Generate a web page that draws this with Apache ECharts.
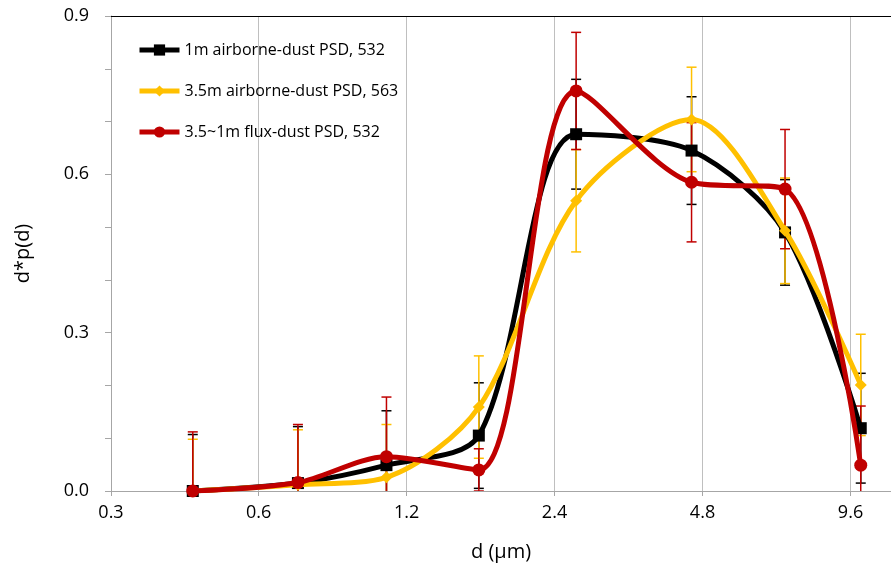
<!DOCTYPE html>
<html>
<head>
<meta charset="utf-8">
<script src="https://cdn.jsdelivr.net/npm/echarts@6/dist/echarts.min.js"></script>
<style>html,body{margin:0;padding:0;background:#fff}#c{width:891px;height:574px}</style>
</head>
<body>
<div id="c"></div>
<script>
// particle diameter (µm)
const diameters = [0.44, 0.72, 1.09, 1.68, 2.65, 4.55, 7.05, 10.05];
// d*p(d) values
const black1m   = [0.000, 0.015, 0.049, 0.105, 0.676, 0.645, 0.490, 0.119];
const yellow35m = [0.000, 0.012, 0.026, 0.159, 0.550, 0.704, 0.493, 0.201];
const redFlux   = [0.000, 0.016, 0.065, 0.040, 0.758, 0.585, 0.572, 0.049];
// error bar half-lengths
const black1mErr   = [0.107, 0.107, 0.103, 0.100, 0.104, 0.102, 0.100, 0.104];
const yellow35mErr = [0.098, 0.104, 0.100, 0.097, 0.097, 0.099, 0.100, 0.096];
const redFluxErr   = [0.112, 0.110, 0.113, 0.040, 0.111, 0.113, 0.113, 0.112];
const seriesNames = ['1m airborne-dust PSD, 532', '3.5m airborne-dust PSD, 563', '3.5~1m flux-dust PSD, 532'];
const yTicks = [0, 0.3, 0.6, 0.9];

const colors = ['#000000', '#FFC000', '#C00000'];
const symbols = ['rect', 'diamond', 'circle'];
const symbolSizes = [12, 12, 13];
const values = [black1m, yellow35m, redFlux];
const errs = [black1mErr, yellow35mErr, redFluxErr];

const FONT = '"Open Sans", "Noto Sans", sans-serif';
const chart = echarts.init(document.getElementById('c'));

const series = [];
values.forEach((vals, i) => {
  series.push({
    type: 'custom',
    name: seriesNames[i] + ' err',
    xAxisIndex: 0, yAxisIndex: 0,
    clip: true,
    z: 1,
    silent: true,
    data: diameters.map((d, k) => [d, vals[k], errs[i][k]]),
    renderItem: function (params, api) {
      const x = api.value(0), y = api.value(1), e = api.value(2);
      const top = api.coord([x, y + e]);
      const bot = api.coord([x, y - e]);
      const cap = 5;
      const st = { stroke: colors[i], lineWidth: 1.5 };
      return {
        type: 'group',
        children: [
          { type: 'line', shape: { x1: top[0], y1: top[1], x2: bot[0], y2: bot[1] }, style: st },
          { type: 'line', shape: { x1: top[0] - cap, y1: top[1], x2: top[0] + cap, y2: top[1] }, style: st },
          { type: 'line', shape: { x1: bot[0] - cap, y1: bot[1], x2: bot[0] + cap, y2: bot[1] }, style: st }
        ]
      };
    }
  });
});
values.forEach((vals, i) => {
  series.push({
    type: 'line',
    name: seriesNames[i],
    xAxisIndex: 0, yAxisIndex: 0,
    data: diameters.map((d, k) => [d, vals[k]]),
    smooth: 0.3,
    symbol: symbols[i],
    symbolSize: symbolSizes[i],
    showAllSymbol: true,
    lineStyle: { color: colors[i], width: 5 },
    itemStyle: { color: colors[i] },
    z: 3 + i
  });
});

chart.setOption({
  animation: false,
  backgroundColor: '#fff',
  textStyle: { fontFamily: FONT },
  grid: { left: 111, right: 0, top: 16, bottom: 83, containLabel: false, outerBoundsMode: 'none' },
  legend: {
    data: seriesNames,
    orient: 'vertical',
    left: 132, top: 37,
    itemWidth: 40, itemHeight: 14, itemGap: 25,
    lineStyle: { width: 5 },
    textStyle: { fontFamily: FONT, fontSize: 16, color: '#000' }
  },
  xAxis: [{
    type: 'log', logBase: 2,
    min: 0.3, max: 11.58, interval: 1,
    name: 'd (\u03bcm)', nameLocation: 'middle', nameGap: 51,
    nameTextStyle: { fontSize: 20, color: '#000', fontFamily: FONT },
    axisLine: { lineStyle: { color: '#a6a6a6', width: 1 } },
    axisTick: { show: true, length: 5, lineStyle: { color: '#a6a6a6' } },
    axisLabel: { fontSize: 18, color: '#000', margin: 13, fontFamily: FONT, showMaxLabel: false,
      formatter: v => String(+(+v).toPrecision(2)) },
    splitLine: { show: true, lineStyle: { color: '#bfbfbf', width: 1 } }
  }, {
    type: 'value', position: 'top', min: 0, max: 1,
    axisLine: { show: true, lineStyle: { color: '#000', width: 1.2 } },
    axisTick: { show: false }, axisLabel: { show: false }, splitLine: { show: false }
  }],
  yAxis: {
    type: 'value', min: yTicks[0], max: yTicks[yTicks.length - 1], interval: 0.3,
    name: 'd*p(d)', nameLocation: 'middle', nameGap: 78,
    nameTextStyle: { fontSize: 20, color: '#000', fontFamily: FONT },
    axisLine: { show: true, lineStyle: { color: '#a6a6a6', width: 1 } },
    axisTick: { show: true, length: 6, lineStyle: { color: '#a6a6a6' } },
    minorTick: { show: true, splitNumber: 3, length: 6, lineStyle: { color: '#a6a6a6' } },
    axisLabel: { fontSize: 18, color: '#000', margin: 22, fontFamily: FONT,
      formatter: v => (+v).toFixed(1) },
    splitLine: { show: false }
  },
  series: series
});
</script>
</body>
</html>
